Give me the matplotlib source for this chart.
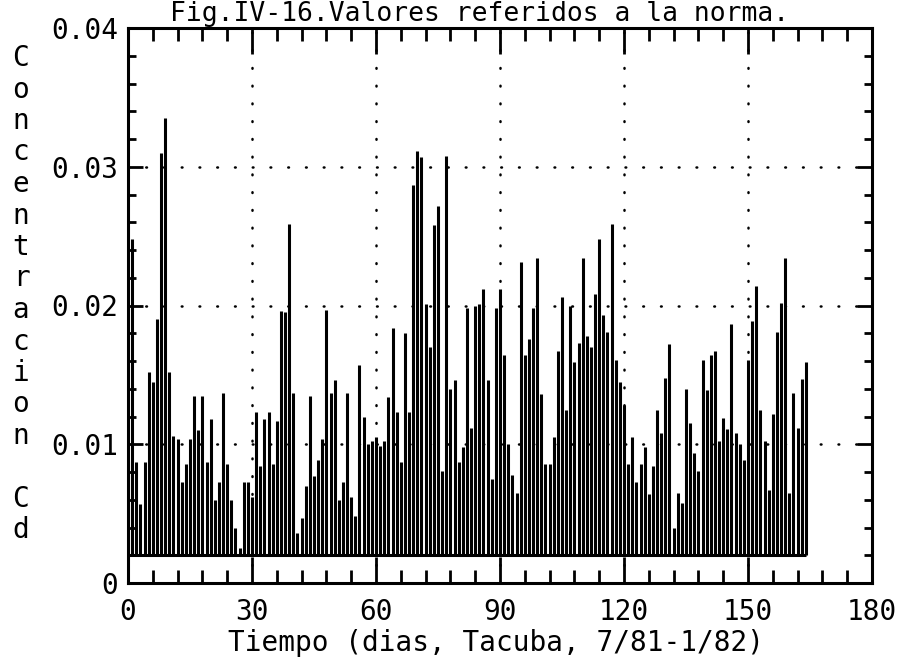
"""Fig. IV-16: daily Cd concentration relative to the norm, Tacuba 7/81-1/82."""
import matplotlib
matplotlib.use("Agg")
import matplotlib.pyplot as plt
from matplotlib.ticker import MultipleLocator, FixedLocator

plt.rcParams["font.family"] = ["DejaVu Sans Mono", "DejaVu Sans"]

TITLE = "Fig.IV-16.Valores referidos a la norma."
X_LABEL = "Tiempo (dias, Tacuba, 7/81-1/82)"
Y_LABEL = "Concentracion Cd"

# one reading per day
days = list(range(165))
conc = [
    0.0088, 0.0248, 0.0087, 0.0057, 0.0087, 0.0152, 0.0145, 0.0190, 0.0310, 0.0335,
    0.0152, 0.0106, 0.0104, 0.0073, 0.0086, 0.0104, 0.0135, 0.0110, 0.0135, 0.0087,
    0.0118, 0.0060, 0.0073, 0.0137, 0.0086, 0.0060, 0.0040, 0.0025, 0.0073, 0.0073,
    0.0062, 0.0123, 0.0084, 0.0118, 0.0123, 0.0086, 0.0117, 0.0196, 0.0195, 0.0259,
    0.0137, 0.0036, 0.0047, 0.0070, 0.0135, 0.0077, 0.0089, 0.0104, 0.0197, 0.0137,
    0.0146, 0.0060, 0.0073, 0.0137, 0.0062, 0.0048, 0.0157, 0.0120, 0.0100, 0.0102,
    0.0105, 0.0099, 0.0102, 0.0134, 0.0184, 0.0123, 0.0087, 0.0180, 0.0123, 0.0287,
    0.0311, 0.0307, 0.0201, 0.0170, 0.0258, 0.0272, 0.0081, 0.0308, 0.0140, 0.0146,
    0.0087, 0.0098, 0.0198, 0.0112, 0.0200, 0.0201, 0.0212, 0.0146, 0.0075, 0.0198,
    0.0212, 0.0164, 0.0100, 0.0078, 0.0065, 0.0231, 0.0164, 0.0176, 0.0198, 0.0234,
    0.0136, 0.0086, 0.0086, 0.0105, 0.0167, 0.0206, 0.0125, 0.0200, 0.0159, 0.0173,
    0.0234, 0.0178, 0.0170, 0.0208, 0.0248, 0.0193, 0.0181, 0.0259, 0.0161, 0.0145,
    0.0128, 0.0086, 0.0105, 0.0073, 0.0086, 0.0098, 0.0064, 0.0084, 0.0125, 0.0108,
    0.0148, 0.0172, 0.0040, 0.0065, 0.0058, 0.0140, 0.0115, 0.0094, 0.0081, 0.0161,
    0.0139, 0.0164, 0.0167, 0.0102, 0.0119, 0.0111, 0.0187, 0.0108, 0.0100, 0.0089,
    0.0161, 0.0189, 0.0214, 0.0125, 0.0102, 0.0067, 0.0122, 0.0181, 0.0202, 0.0234,
    0.0065, 0.0137, 0.0112, 0.0147, 0.0159,
]
baseline = 0.002

x_ticks = [0, 30, 60, 90, 120, 150, 180]
y_ticks = [0, 0.01, 0.02, 0.03, 0.04]
y_tick_labels = ["0", "0.01", "0.02", "0.03", "0.04"]

W, H = 898, 660
fig = plt.figure(figsize=(W / 100, H / 100), dpi=100)
ax = fig.add_axes([128 / W, 1 - 583 / H, (872 - 128) / W, (583 - 28) / H])

ax.vlines(days, baseline, conc, colors="black", linewidth=2.2, zorder=3)
ax.hlines(baseline, days[0], days[-1], colors="black", linewidth=2.2, zorder=3)

ax.set_xlim(0, 180)
ax.set_ylim(0, 0.04)
ax.xaxis.set_major_locator(FixedLocator(x_ticks))
ax.set_xticklabels([str(t) for t in x_ticks])
ax.xaxis.set_minor_locator(MultipleLocator(6))
ax.yaxis.set_major_locator(FixedLocator(y_ticks))
ax.set_yticklabels(y_tick_labels)
ax.yaxis.set_minor_locator(MultipleLocator(0.002))

ax.set_axisbelow(True)
ax.grid(True, which="major", color="black", linestyle=(0, (0.3, 6.8)),
        linewidth=1.8, dash_capstyle="round")

for spine in ax.spines.values():
    spine.set_linewidth(2.2)

ax.tick_params(which="both", direction="in", top=True, right=True,
               width=2, labelsize=20, color="black")
ax.tick_params(axis="x", which="major", length=19, pad=11)
ax.tick_params(axis="x", which="minor", length=9.5)
ax.tick_params(axis="y", which="major", length=11, pad=7)
ax.tick_params(axis="y", which="minor", length=6)

# title just above the frame, as high as it can go without being clipped
fig.text(480 / W, 1 - 21 / H, TITLE, ha="center", va="baseline", fontsize=19)
fig.text(228 / W, 1 - 643 / H, X_LABEL, ha="left", va="center", fontsize=20)

# y label printed as a column of upright characters
for i, ch in enumerate(Y_LABEL):
    fig.text(21 / W, 1 - (58 + i * 31.5) / H, ch, ha="center", va="center",
             fontsize=20)

fig.savefig("out.png", dpi=100, facecolor="white")
